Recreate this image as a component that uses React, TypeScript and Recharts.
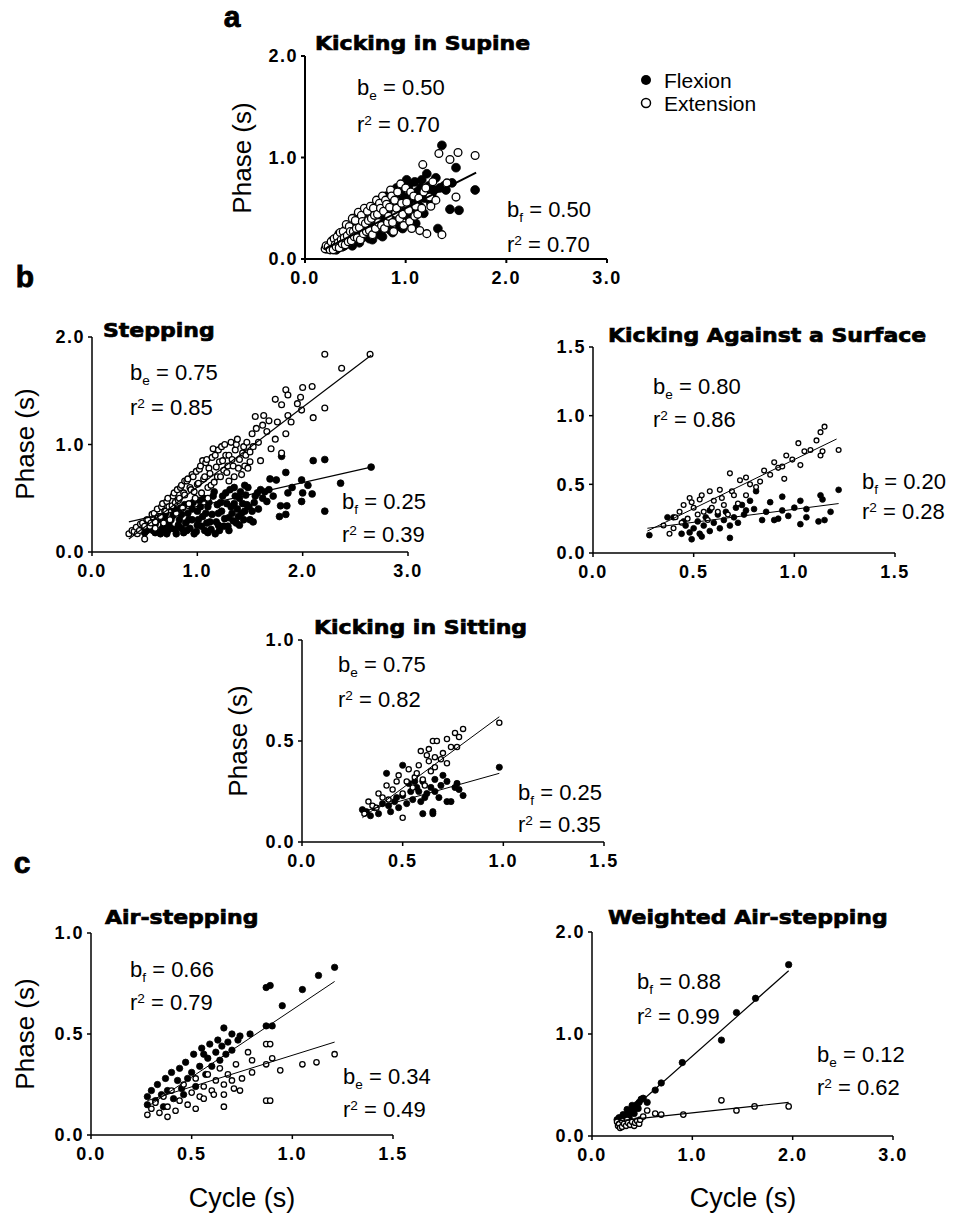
import React from "react";
import { ScatterChart, Scatter, XAxis, YAxis } from "recharts";

type P = [number, number];

// a: Kicking in Supine
const supineFlex: P[] = [
  [0.22, 0.1], [0.24, 0.12], [0.25, 0.14], [0.27, 0.18], [0.28, 0.11], [0.3, 0.17], [0.31, 0.09], [0.32, 0.13],
  [0.33, 0.21], [0.34, 0.25], [0.35, 0.16], [0.36, 0.2], [0.37, 0.12], [0.38, 0.24], [0.39, 0.13], [0.4, 0.19],
  [0.41, 0.3], [0.42, 0.15], [0.43, 0.28], [0.44, 0.18], [0.45, 0.22], [0.46, 0.34], [0.47, 0.13], [0.48, 0.31],
  [0.49, 0.2], [0.5, 0.25], [0.51, 0.41], [0.52, 0.18], [0.53, 0.36], [0.54, 0.16], [0.55, 0.28], [0.56, 0.33],
  [0.57, 0.21], [0.58, 0.4], [0.59, 0.27], [0.6, 0.32], [0.61, 0.46], [0.62, 0.24], [0.63, 0.44], [0.64, 0.2],
  [0.65, 0.35], [0.66, 0.41], [0.67, 0.19], [0.68, 0.48], [0.69, 0.3], [0.7, 0.38], [0.71, 0.55], [0.72, 0.27],
  [0.73, 0.52], [0.74, 0.24], [0.75, 0.42], [0.76, 0.48], [0.77, 0.22], [0.78, 0.56], [0.79, 0.36], [0.8, 0.45],
  [0.81, 0.62], [0.82, 0.33], [0.83, 0.6], [0.84, 0.29], [0.85, 0.48], [0.86, 0.55], [0.87, 0.26], [0.88, 0.63],
  [0.89, 0.41], [0.9, 0.52], [0.91, 0.7], [0.92, 0.38], [0.93, 0.66], [0.94, 0.32], [0.95, 0.55], [0.96, 0.63],
  [0.97, 0.3], [0.98, 0.72], [0.99, 0.47], [1.0, 0.6], [1.01, 0.78], [1.02, 0.42], [1.03, 0.72], [1.05, 0.65],
  [1.06, 0.4], [1.07, 0.5], [1.08, 0.58], [1.09, 0.76], [1.1, 0.35], [1.11, 0.66], [1.12, 0.58], [1.14, 0.52],
  [1.15, 0.7], [1.16, 0.78], [1.18, 0.45], [1.19, 0.6], [1.21, 0.84], [1.22, 0.62], [1.23, 0.72], [1.25, 0.55],
  [1.26, 0.64], [1.28, 0.68], [1.3, 0.8], [1.32, 0.3], [1.34, 0.7], [1.36, 1.12], [1.38, 0.72], [1.4, 0.68],
  [1.44, 0.49], [1.46, 0.75], [1.5, 0.9], [1.53, 0.48], [1.69, 0.68],
];
const supineExt: P[] = [
  [0.2, 0.1], [0.21, 0.13], [0.23, 0.12], [0.25, 0.09], [0.26, 0.17], [0.28, 0.09], [0.29, 0.2], [0.3, 0.14],
  [0.31, 0.12], [0.32, 0.22], [0.33, 0.16], [0.34, 0.11], [0.35, 0.26], [0.36, 0.19], [0.37, 0.15], [0.38, 0.27],
  [0.39, 0.21], [0.4, 0.14], [0.41, 0.34], [0.42, 0.23], [0.43, 0.17], [0.44, 0.32], [0.45, 0.27], [0.46, 0.18],
  [0.47, 0.4], [0.48, 0.27], [0.49, 0.22], [0.5, 0.38], [0.51, 0.3], [0.52, 0.21], [0.53, 0.46], [0.54, 0.31],
  [0.55, 0.19], [0.56, 0.43], [0.57, 0.37], [0.58, 0.25], [0.59, 0.5], [0.6, 0.35], [0.61, 0.27], [0.62, 0.47],
  [0.63, 0.38], [0.64, 0.28], [0.65, 0.52], [0.66, 0.4], [0.67, 0.24], [0.68, 0.5], [0.69, 0.43], [0.7, 0.3],
  [0.71, 0.58], [0.72, 0.44], [0.73, 0.36], [0.74, 0.55], [0.75, 0.5], [0.76, 0.33], [0.77, 0.62], [0.78, 0.47],
  [0.79, 0.3], [0.8, 0.58], [0.81, 0.54], [0.82, 0.36], [0.83, 0.42], [0.84, 0.51], [0.85, 0.68], [0.86, 0.62],
  [0.87, 0.36], [0.88, 0.27], [0.89, 0.58], [0.9, 0.45], [0.91, 0.5], [0.92, 0.66], [0.94, 0.4], [0.95, 0.74],
  [0.96, 0.55], [0.97, 0.44], [0.98, 0.33], [1.0, 0.7], [1.01, 0.56], [1.03, 0.48], [1.04, 0.37], [1.05, 0.66],
  [1.06, 0.3], [1.08, 0.62], [1.09, 0.42], [1.1, 0.52], [1.12, 0.44], [1.13, 0.6], [1.14, 0.28], [1.16, 0.5],
  [1.17, 0.93], [1.18, 0.66], [1.2, 0.7], [1.21, 0.25], [1.24, 0.61], [1.25, 0.52], [1.27, 0.76], [1.3, 0.58],
  [1.33, 1.04], [1.36, 0.24], [1.41, 0.75], [1.44, 0.98], [1.5, 0.61], [1.52, 1.05], [1.69, 1.02],
];
const supineFit: P[] = [[0.2, 0.1], [1.7, 0.85]];

// b: Stepping
const steppingFlex: P[] = [
  [0.45, 0.22], [0.5, 0.18], [0.52, 0.2], [0.55, 0.28], [0.57, 0.24], [0.58, 0.2], [0.6, 0.26], [0.6, 0.18],
  [0.62, 0.33], [0.63, 0.3], [0.65, 0.17], [0.66, 0.21], [0.68, 0.25], [0.69, 0.32], [0.7, 0.36], [0.71, 0.17],
  [0.72, 0.2], [0.73, 0.26], [0.75, 0.3], [0.75, 0.22], [0.77, 0.34], [0.78, 0.4], [0.79, 0.21], [0.8, 0.17],
  [0.82, 0.25], [0.83, 0.3], [0.84, 0.41], [0.85, 0.35], [0.85, 0.22], [0.87, 0.18], [0.88, 0.44], [0.89, 0.27],
  [0.9, 0.2], [0.91, 0.36], [0.92, 0.3], [0.93, 0.22], [0.95, 0.4], [0.95, 0.3], [0.96, 0.46], [0.97, 0.17],
  [0.99, 0.19], [1.0, 0.25], [1.0, 0.38], [1.01, 0.3], [1.02, 0.48], [1.03, 0.42], [1.04, 0.24], [1.05, 0.33],
  [1.06, 0.5], [1.07, 0.2], [1.08, 0.36], [1.09, 0.27], [1.1, 0.42], [1.1, 0.18], [1.11, 0.46], [1.12, 0.28],
  [1.13, 0.21], [1.14, 0.35], [1.15, 0.52], [1.16, 0.56], [1.17, 0.17], [1.18, 0.28], [1.19, 0.44], [1.2, 0.36],
  [1.2, 0.25], [1.21, 0.2], [1.22, 0.46], [1.23, 0.38], [1.24, 0.52], [1.25, 0.24], [1.26, 0.31], [1.27, 0.55],
  [1.28, 0.45], [1.29, 0.24], [1.3, 0.32], [1.3, 0.2], [1.31, 0.58], [1.32, 0.42], [1.33, 0.36], [1.34, 0.29],
  [1.35, 0.6], [1.35, 0.45], [1.36, 0.52], [1.37, 0.27], [1.38, 0.4], [1.39, 0.33], [1.4, 0.5], [1.4, 0.25],
  [1.41, 0.56], [1.42, 0.36], [1.43, 0.45], [1.44, 0.3], [1.45, 0.62], [1.45, 0.38], [1.46, 0.53], [1.47, 0.44],
  [1.48, 0.6], [1.49, 0.42], [1.5, 0.3], [1.52, 0.38], [1.53, 0.28], [1.54, 0.46], [1.55, 0.52], [1.57, 0.55],
  [1.58, 0.4], [1.6, 0.58], [1.62, 0.5], [1.64, 0.56], [1.66, 0.47], [1.68, 0.58], [1.69, 0.68], [1.72, 0.52],
  [1.75, 0.67], [1.78, 0.33], [1.79, 0.43], [1.8, 0.89], [1.84, 0.74], [1.84, 0.35], [1.85, 0.43], [1.86, 0.55],
  [1.9, 0.6], [1.99, 0.67], [1.99, 0.47], [2.0, 0.55], [2.05, 0.62], [2.09, 0.54], [2.1, 0.85], [2.21, 0.86],
  [2.21, 0.38], [2.36, 0.64], [2.65, 0.79],
];
const steppingExt: P[] = [
  [0.35, 0.17], [0.38, 0.2], [0.4, 0.19], [0.42, 0.23], [0.43, 0.17], [0.45, 0.2], [0.46, 0.26], [0.48, 0.27],
  [0.5, 0.12], [0.5, 0.24], [0.52, 0.3], [0.53, 0.3], [0.55, 0.24], [0.56, 0.27], [0.57, 0.35], [0.59, 0.36],
  [0.6, 0.28], [0.6, 0.22], [0.62, 0.4], [0.63, 0.33], [0.65, 0.33], [0.66, 0.42], [0.67, 0.45], [0.68, 0.27],
  [0.69, 0.38], [0.7, 0.38], [0.71, 0.47], [0.72, 0.5], [0.73, 0.42], [0.74, 0.3], [0.76, 0.43], [0.77, 0.52],
  [0.78, 0.55], [0.79, 0.46], [0.8, 0.36], [0.81, 0.58], [0.82, 0.48], [0.83, 0.5], [0.84, 0.6], [0.85, 0.62],
  [0.86, 0.41], [0.87, 0.55], [0.88, 0.53], [0.88, 0.66], [0.9, 0.66], [0.91, 0.68], [0.92, 0.45], [0.93, 0.6],
  [0.94, 0.58], [0.95, 0.72], [0.96, 0.7], [0.97, 0.56], [0.98, 0.5], [0.99, 0.75], [1.0, 0.63], [1.01, 0.64],
  [1.02, 0.77], [1.03, 0.8], [1.04, 0.55], [1.05, 0.85], [1.06, 0.68], [1.07, 0.7], [1.08, 0.83], [1.09, 0.86],
  [1.1, 0.6], [1.1, 0.5], [1.11, 0.78], [1.12, 0.73], [1.13, 0.62], [1.14, 0.88], [1.15, 0.96], [1.16, 0.65],
  [1.17, 0.9], [1.18, 0.79], [1.19, 0.7], [1.2, 0.95], [1.21, 0.84], [1.22, 0.7], [1.23, 0.98], [1.24, 0.85],
  [1.25, 0.76], [1.26, 1.0], [1.27, 0.9], [1.28, 0.74], [1.29, 0.8], [1.3, 0.9], [1.3, 0.66], [1.32, 1.02],
  [1.33, 0.86], [1.34, 0.8], [1.35, 0.7], [1.36, 0.95], [1.37, 1.0], [1.38, 1.05], [1.39, 0.78], [1.4, 0.86],
  [1.42, 0.72], [1.43, 0.92], [1.44, 0.98], [1.45, 0.8], [1.46, 0.9], [1.47, 1.02], [1.48, 0.78], [1.5, 0.93],
  [1.5, 0.84], [1.52, 1.1], [1.53, 0.98], [1.55, 1.26], [1.56, 1.15], [1.58, 1.02], [1.6, 0.85], [1.62, 1.18],
  [1.63, 1.27], [1.66, 1.12], [1.68, 1.22], [1.7, 0.96], [1.74, 1.05], [1.74, 1.42], [1.76, 1.21], [1.8, 0.92],
  [1.8, 1.37], [1.84, 1.1], [1.84, 1.51], [1.86, 1.27], [1.86, 1.46], [1.89, 1.21], [1.95, 1.38], [1.98, 1.44],
  [1.99, 1.32], [2.0, 1.53], [2.09, 1.54], [2.1, 1.25], [2.21, 1.34], [2.21, 1.84], [2.37, 1.71], [2.64, 1.84],
];
const steppingFitF: P[] = [[0.35, 0.28], [2.65, 0.79]];
const steppingFitE: P[] = [[0.35, 0.12], [2.65, 1.83]];

// b: Kicking Against a Surface
const surfaceFlex: P[] = [
  [0.28, 0.13], [0.37, 0.26], [0.4, 0.26], [0.44, 0.14], [0.45, 0.23], [0.46, 0.2], [0.48, 0.15], [0.49, 0.1],
  [0.5, 0.18], [0.52, 0.23], [0.53, 0.14], [0.54, 0.12], [0.55, 0.2], [0.56, 0.26], [0.58, 0.16], [0.58, 0.31],
  [0.6, 0.22], [0.62, 0.28], [0.63, 0.18], [0.65, 0.24], [0.66, 0.3], [0.68, 0.2], [0.68, 0.11], [0.7, 0.26],
  [0.71, 0.33], [0.72, 0.22], [0.74, 0.35], [0.75, 0.28], [0.76, 0.31], [0.78, 0.38], [0.8, 0.32], [0.81, 0.45],
  [0.84, 0.24], [0.86, 0.3], [0.88, 0.37], [0.9, 0.24], [0.92, 0.25], [0.94, 0.41], [0.94, 0.31], [0.97, 0.27],
  [1.0, 0.33], [1.03, 0.38], [1.03, 0.21], [1.06, 0.26], [1.06, 0.32], [1.12, 0.23], [1.13, 0.42], [1.14, 0.39],
  [1.15, 0.24], [1.18, 0.3], [1.22, 0.46],
];
const surfaceExt: P[] = [
  [0.35, 0.2], [0.38, 0.14], [0.4, 0.18], [0.41, 0.26], [0.43, 0.3], [0.44, 0.22], [0.45, 0.35], [0.47, 0.25],
  [0.48, 0.4], [0.49, 0.37], [0.5, 0.33], [0.52, 0.28], [0.53, 0.39], [0.54, 0.42], [0.55, 0.3], [0.57, 0.24],
  [0.58, 0.45], [0.59, 0.33], [0.6, 0.38], [0.62, 0.3], [0.63, 0.46], [0.64, 0.4], [0.65, 0.35], [0.67, 0.28],
  [0.68, 0.58], [0.69, 0.45], [0.7, 0.42], [0.72, 0.36], [0.73, 0.53], [0.76, 0.55], [0.76, 0.42], [0.78, 0.5],
  [0.81, 0.48], [0.83, 0.52], [0.85, 0.6], [0.88, 0.57], [0.9, 0.66], [0.92, 0.62], [0.94, 0.63], [0.95, 0.54],
  [0.96, 0.71], [0.99, 0.68], [1.02, 0.8], [1.03, 0.64], [1.05, 0.74], [1.08, 0.75], [1.11, 0.82], [1.13, 0.88],
  [1.13, 0.71], [1.14, 0.74], [1.15, 0.92], [1.22, 0.75],
];
const surfaceFitF: P[] = [[0.27, 0.18], [1.22, 0.36]];
const surfaceFitE: P[] = [[0.27, 0.16], [1.21, 0.83]];

// b: Kicking in Sitting
const sittingFlex: P[] = [
  [0.3, 0.16], [0.32, 0.15], [0.34, 0.13], [0.36, 0.17], [0.38, 0.14], [0.4, 0.19], [0.42, 0.34], [0.43, 0.18],
  [0.44, 0.15], [0.46, 0.2], [0.47, 0.22], [0.48, 0.17], [0.5, 0.23], [0.5, 0.38], [0.52, 0.19], [0.53, 0.29],
  [0.54, 0.25], [0.55, 0.21], [0.56, 0.3], [0.57, 0.27], [0.58, 0.25], [0.59, 0.2], [0.6, 0.3], [0.6, 0.14],
  [0.61, 0.22], [0.62, 0.24], [0.64, 0.27], [0.65, 0.15], [0.65, 0.14], [0.66, 0.25], [0.66, 0.31], [0.68, 0.22],
  [0.69, 0.28], [0.7, 0.33], [0.72, 0.2], [0.72, 0.3], [0.74, 0.2], [0.76, 0.27], [0.77, 0.29], [0.78, 0.26],
  [0.8, 0.23], [0.98, 0.37],
];
const sittingExt: P[] = [
  [0.31, 0.14], [0.33, 0.2], [0.35, 0.18], [0.37, 0.17], [0.38, 0.24], [0.4, 0.22], [0.42, 0.28], [0.43, 0.21],
  [0.45, 0.26], [0.47, 0.3], [0.48, 0.33], [0.5, 0.12], [0.5, 0.24], [0.52, 0.3], [0.53, 0.36], [0.55, 0.27],
  [0.56, 0.32], [0.57, 0.34], [0.58, 0.38], [0.59, 0.45], [0.6, 0.31], [0.61, 0.28], [0.62, 0.43], [0.63, 0.46],
  [0.63, 0.4], [0.64, 0.35], [0.65, 0.5], [0.66, 0.37], [0.66, 0.42], [0.67, 0.5], [0.69, 0.41], [0.7, 0.44],
  [0.72, 0.51], [0.72, 0.39], [0.74, 0.47], [0.76, 0.54], [0.77, 0.47], [0.78, 0.52], [0.8, 0.56], [0.98, 0.59],
];
const sittingFitF: P[] = [[0.3, 0.15], [0.98, 0.34]];
const sittingFitE: P[] = [[0.3, 0.12], [0.98, 0.62]];

// c: Air-stepping
const airFlex: P[] = [
  [0.28, 0.15], [0.28, 0.19], [0.3, 0.22], [0.32, 0.17], [0.33, 0.25], [0.35, 0.2], [0.36, 0.14], [0.37, 0.28],
  [0.38, 0.22], [0.4, 0.31], [0.41, 0.18], [0.43, 0.27], [0.44, 0.33], [0.45, 0.23], [0.46, 0.2], [0.47, 0.36],
  [0.48, 0.28], [0.5, 0.31], [0.51, 0.4], [0.52, 0.24], [0.54, 0.34], [0.55, 0.43], [0.56, 0.4], [0.57, 0.3],
  [0.58, 0.38], [0.59, 0.45], [0.6, 0.34], [0.62, 0.41], [0.63, 0.47], [0.64, 0.37], [0.65, 0.44], [0.66, 0.53],
  [0.67, 0.4], [0.68, 0.46], [0.7, 0.5], [0.7, 0.42], [0.73, 0.47], [0.74, 0.49], [0.79, 0.5], [0.87, 0.54],
  [0.87, 0.73], [0.89, 0.74], [0.9, 0.54], [0.95, 0.64], [1.05, 0.72], [1.13, 0.79], [1.21, 0.83],
];
const airExt: P[] = [
  [0.28, 0.1], [0.3, 0.13], [0.32, 0.16], [0.34, 0.11], [0.36, 0.19], [0.38, 0.14], [0.38, 0.09], [0.4, 0.22],
  [0.42, 0.12], [0.44, 0.17], [0.46, 0.25], [0.48, 0.15], [0.5, 0.21], [0.52, 0.28], [0.52, 0.13], [0.54, 0.19],
  [0.56, 0.24], [0.56, 0.18], [0.58, 0.3], [0.6, 0.22], [0.61, 0.2], [0.62, 0.27], [0.64, 0.33], [0.66, 0.25],
  [0.66, 0.2], [0.66, 0.14], [0.68, 0.3], [0.7, 0.27], [0.71, 0.23], [0.72, 0.35], [0.74, 0.22], [0.75, 0.28],
  [0.78, 0.41], [0.8, 0.31], [0.8, 0.37], [0.87, 0.35], [0.87, 0.45], [0.87, 0.17], [0.89, 0.17], [0.89, 0.45],
  [0.9, 0.38], [0.94, 0.32], [1.05, 0.35], [1.12, 0.36], [1.21, 0.4],
];
const airFitF: P[] = [[0.28, 0.14], [1.21, 0.76]];
const airFitE: P[] = [[0.28, 0.17], [1.21, 0.46]];

// c: Weighted Air-stepping
const weightedFlex: P[] = [
  [0.25, 0.16], [0.26, 0.13], [0.27, 0.18], [0.28, 0.15], [0.29, 0.11], [0.3, 0.17], [0.31, 0.21], [0.32, 0.14],
  [0.33, 0.19], [0.35, 0.26], [0.36, 0.22], [0.37, 0.18], [0.38, 0.24], [0.4, 0.3], [0.41, 0.27], [0.42, 0.22],
  [0.43, 0.29], [0.45, 0.31], [0.46, 0.27], [0.47, 0.33], [0.49, 0.36], [0.51, 0.37], [0.55, 0.33], [0.63, 0.45],
  [0.69, 0.52], [0.9, 0.72], [1.29, 0.94], [1.44, 1.21], [1.63, 1.35], [1.96, 1.68],
];
const weightedExt: P[] = [
  [0.25, 0.14], [0.26, 0.1], [0.27, 0.12], [0.28, 0.08], [0.3, 0.09], [0.3, 0.15], [0.32, 0.12], [0.34, 0.1],
  [0.35, 0.16], [0.36, 0.13], [0.38, 0.11], [0.4, 0.14], [0.42, 0.1], [0.43, 0.13], [0.45, 0.15], [0.47, 0.12],
  [0.48, 0.16], [0.51, 0.19], [0.55, 0.25], [0.63, 0.22], [0.69, 0.21], [0.91, 0.21], [1.29, 0.35], [1.44, 0.25],
  [1.62, 0.29], [1.96, 0.29],
];
const weightedFitF: P[] = [[0.25, 0.13], [1.96, 1.62]];
const weightedFitE: P[] = [[0.28, 0.15], [1.96, 0.33]];

const ticks3 = [0, 1, 2, 3];
const ticks2 = [0, 1, 2];
const ticks15 = [0, 0.5, 1, 1.5];
const ticks1 = [0, 0.5, 1];

const FONT = '"Liberation Sans", Arial, Helvetica, sans-serif';
const HEAVY = '"DejaVu Sans", "Liberation Sans", Arial, sans-serif';

const toPts = (a: P[]) => a.map(([x, y]) => ({ x, y }));

type PanelProps = {
  left: number;
  top: number;
  w: number;
  h: number;
  xMax: number;
  xTicks: number[];
  yMax: number;
  yTicks: number[];
  flex: P[];
  ext: P[];
  fits: P[][];
  r: number;
  fitW?: number;
  axisW?: number;
};

const Panel = (p: PanelProps) => {
  const YW = 60;
  const TOP = 20;
  const XH = 40;
  const RIGHT = 20;
  const tick = { fill: "#000", fontSize: 18, fontWeight: 700, fontFamily: FONT, letterSpacing: 1.5 };
  const axisLine = { stroke: "#000", strokeWidth: p.axisW ?? 1.5 };
  return (
    <div style={{ position: "absolute", left: p.left - YW, top: p.top - TOP }}>
      <ScatterChart
        width={p.w + YW + RIGHT}
        height={p.h + TOP + XH}
        margin={{ top: TOP, right: RIGHT, left: 0, bottom: 0 }}
      >
        <XAxis
          type="number"
          dataKey="x"
          domain={[0, p.xMax]}
          ticks={p.xTicks}
          interval={0}
          height={XH}
          tick={tick}
          tickSize={4}
          tickMargin={8}
          tickLine={axisLine}
          axisLine={axisLine}
          tickFormatter={(v: number) => v.toFixed(1)}
        />
        <YAxis
          type="number"
          dataKey="y"
          domain={[0, p.yMax]}
          ticks={p.yTicks}
          interval={0}
          width={YW}
          tick={tick}
          tickSize={4}
          tickMargin={3}
          tickLine={axisLine}
          axisLine={axisLine}
          tickFormatter={(v: number) => v.toFixed(1)}
        />
        <Scatter
          data={toPts(p.flex)}
          isAnimationActive={false}
          shape={(s: any) => <circle cx={s.cx} cy={s.cy} r={p.r} fill="#000" stroke="#000" strokeWidth={0.8} />}
        />
        <Scatter
          data={toPts(p.ext)}
          isAnimationActive={false}
          shape={(s: any) => (
            <circle cx={s.cx} cy={s.cy} r={p.r - 0.5} fill="#fff" stroke="#000" strokeWidth={1.3} />
          )}
        />
        {p.fits.map((f, i) => (
          <Scatter
            key={i}
            data={toPts(f)}
            isAnimationActive={false}
            line={{ stroke: "#000", strokeWidth: p.fitW ?? 1.2 }}
            lineType="joint"
            shape={() => <g />}
          />
        ))}
      </ScatterChart>
    </div>
  );
};

const Txt = ({ x, y, size, children, weight = 400, family = FONT, anchor = "left", extra = {} }: any) => (
  <div
    style={{
      position: "absolute",
      left: x,
      top: y - size / 2,
      fontSize: size,
      lineHeight: `${size}px`,
      fontWeight: weight,
      fontFamily: family,
      whiteSpace: "nowrap",
      color: "#000",
      transform: anchor === "center" ? "translateX(-50%)" : undefined,
      ...extra,
    }}
  >
    {children}
  </div>
);

const Coef = ({ x, y, sub, v }: { x: number; y: number; sub: string; v: string }) => (
  <Txt x={x} y={y} size={22}>
    b<span style={{ fontSize: "0.62em", position: "relative", top: "0.4em" }}>{sub}</span> = {v}
  </Txt>
);

const R2 = ({ x, y, v }: { x: number; y: number; v: string }) => (
  <Txt x={x} y={y} size={22}>
    r<span style={{ fontSize: "0.62em", position: "relative", top: "-0.5em" }}>2</span> = {v}
  </Txt>
);

const Phase = ({ x, y }: { x: number; y: number }) => (
  <div
    style={{
      position: "absolute",
      left: x,
      top: y,
      fontSize: 26,
      fontFamily: FONT,
      whiteSpace: "nowrap",
      transform: "translate(-50%, -50%) rotate(-90deg)",
      lineHeight: "26px",
    }}
  >
    Phase (s)
  </div>
);

const Title = ({ x, y, children }: any) => (
  <Txt
    x={x}
    y={y}
    size={20}
    weight={700}
    family={HEAVY}
    extra={{ WebkitTextStroke: "0.7px #000", transform: "scaleX(1.1)", transformOrigin: "left center" }}
  >
    {children}
  </Txt>
);

export default function App() {
  return (
    <div style={{ position: "absolute", left: 0, top: 0, width: 954, height: 1215, background: "#fff", fontFamily: FONT }}>
      {/* a */}
      <Panel left={305} top={56} w={302} h={203} xMax={3} xTicks={ticks3} yMax={2} yTicks={ticks2}
        flex={supineFlex} ext={supineExt} fits={[supineFit]} r={4.4} fitW={2} axisW={2} />
      {/* b */}
      <Panel left={92} top={337} w={316} h={215} xMax={3} xTicks={ticks3} yMax={2} yTicks={ticks2}
        flex={steppingFlex} ext={steppingExt} fits={[steppingFitF, steppingFitE]} r={3.4} />
      <Panel left={593} top={347} w={302} h={206} xMax={1.5} xTicks={ticks15} yMax={1.5} yTicks={ticks15}
        flex={surfaceFlex} ext={surfaceExt} fits={[surfaceFitF, surfaceFitE]} r={2.9} fitW={1} />
      <Panel left={302} top={640} w={302} h={202} xMax={1.5} xTicks={ticks15} yMax={1} yTicks={ticks1}
        flex={sittingFlex} ext={sittingExt} fits={[sittingFitF, sittingFitE]} r={3.1} fitW={1} />
      {/* c */}
      <Panel left={91} top={933} w={302} h={202} xMax={1.5} xTicks={ticks15} yMax={1} yTicks={ticks1}
        flex={airFlex} ext={airExt} fits={[airFitF, airFitE]} r={3.2} fitW={1} />
      <Panel left={592} top={932} w={301} h={204} xMax={3} xTicks={ticks3} yMax={2} yTicks={ticks2}
        flex={weightedFlex} ext={weightedExt} fits={[weightedFitF, weightedFitE]} r={3.2} />

      {/* panel letters */}
      <Txt x={232} y={17} size={30} weight={700} anchor="center" extra={{ WebkitTextStroke: "0.8px #000" }}>a</Txt>
      <Txt x={25} y={277} size={30} weight={700} anchor="center" extra={{ WebkitTextStroke: "0.8px #000" }}>b</Txt>
      <Txt x={22} y={863} size={30} weight={700} anchor="center" extra={{ WebkitTextStroke: "0.8px #000" }}>c</Txt>

      {/* titles */}
      <Title x={315} y={43}>Kicking in Supine</Title>
      <Title x={103} y={330}>Stepping</Title>
      <Title x={608} y={335}>Kicking Against a Surface</Title>
      <Title x={314} y={627}>Kicking in Sitting</Title>
      <Title x={105} y={917}>Air-stepping</Title>
      <Title x={608} y={917}>Weighted Air-stepping</Title>

      {/* axis titles */}
      <Phase x={242} y={158} />
      <Phase x={25} y={444} />
      <Phase x={238} y={741} />
      <Phase x={25} y={1034} />
      <Txt x={242} y={1198} size={27} anchor="center">Cycle (s)</Txt>
      <Txt x={743} y={1198} size={27} anchor="center">Cycle (s)</Txt>

      {/* legend */}
      <svg style={{ position: "absolute", left: 638, top: 72 }} width={16} height={40}>
        <circle cx={8} cy={8} r={5} fill="#000" />
        <circle cx={8} cy={31} r={4.5} fill="#fff" stroke="#000" strokeWidth={1.5} />
      </svg>
      <Txt x={664} y={80} size={21}>Flexion</Txt>
      <Txt x={664} y={103} size={21}>Extension</Txt>

      {/* coefficients */}
      <Coef x={357} y={88} sub="e" v="0.50" />
      <R2 x={357} y={125} v="0.70" />
      <Coef x={507} y={210} sub="f" v="0.50" />
      <R2 x={507} y={245} v="0.70" />

      <Coef x={130} y={373} sub="e" v="0.75" />
      <R2 x={130} y={408} v="0.85" />
      <Coef x={342} y={502} sub="f" v="0.25" />
      <R2 x={342} y={535} v="0.39" />

      <Coef x={653} y={387} sub="e" v="0.80" />
      <R2 x={653} y={420} v="0.86" />
      <Coef x={862} y={482} sub="f" v="0.20" />
      <R2 x={862} y={512} v="0.28" />

      <Coef x={338} y={665} sub="e" v="0.75" />
      <R2 x={338} y={700} v="0.82" />
      <Coef x={518} y={793} sub="f" v="0.25" />
      <R2 x={518} y={825} v="0.35" />

      <Coef x={130} y={970} sub="f" v="0.66" />
      <R2 x={130} y={1003} v="0.79" />
      <Coef x={343} y={1077} sub="e" v="0.34" />
      <R2 x={343} y={1110} v="0.49" />

      <Coef x={637} y={982} sub="f" v="0.88" />
      <R2 x={637} y={1017} v="0.99" />
      <Coef x={817} y={1055} sub="e" v="0.12" />
      <R2 x={817} y={1088} v="0.62" />
    </div>
  );
}
